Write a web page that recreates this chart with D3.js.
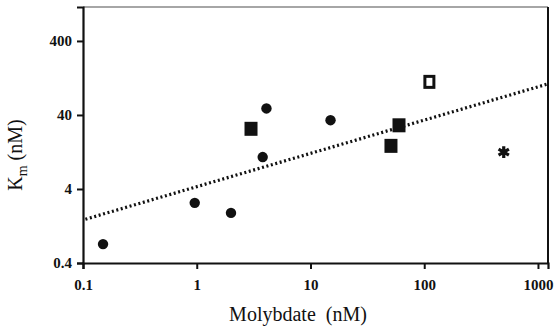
<!DOCTYPE html>
<html>
<head>
<meta charset="utf-8">
<script src="https://cdn.jsdelivr.net/npm/d3@7"></script>
<style>
  body { margin: 0; background: #fff; }
  text { font-family: "Liberation Serif", "DejaVu Serif", serif; fill: #111; }
</style>
</head>
<body>
<div id="chart"></div>
<script>
// values (nM)
var circleX = [0.15, 0.96, 2.0, 3.8, 4.1, 15];
var circleY = [0.72, 2.6, 1.9, 10.8, 49, 34];
var squareX = [3.0, 51, 60];
var squareY = [26, 15.3, 29];
var openX = [111];
var openY = [112];
var starX = [500];
var starY = [12.6];
var fitX = [0.105, 1220];
var fitY = [1.56, 105];
var xTicks = [0.1, 1, 10, 100, 1000];
var yTicks = [0.4, 4, 40, 400];

var _width = 554, _height = 333,
  _margins = {top: 7, left: 83, right: 6, bottom: 70};

var svg = d3.select("#chart").append("svg")
  .attr("width", _width)
  .attr("height", _height);

var x = d3.scaleLog().domain([0.1, 1225]).range([_margins.left, _width - _margins.right]);
var y = d3.scaleLog().domain([0.4, 1150]).range([_height - _margins.bottom, _margins.top]);

// frame: gray top, black right
svg.append("line")
  .attr("x1", x.range()[0]).attr("x2", x.range()[1])
  .attr("y1", y.range()[1]).attr("y2", y.range()[1])
  .attr("stroke", "#888").attr("stroke-width", 1.5);
svg.append("line")
  .attr("x1", x.range()[1]).attr("x2", x.range()[1])
  .attr("y1", y.range()[1]).attr("y2", y.range()[0])
  .attr("stroke", "#111").attr("stroke-width", 2);

var fmt = function (d) { return String(d); };

var xAxis = svg.append("g")
  .attr("transform", "translate(0," + y.range()[0] + ")")
  .call(d3.axisBottom(x).tickValues(xTicks).tickFormat(fmt).tickSize(6).tickPadding(10));
var yAxis = svg.append("g")
  .attr("transform", "translate(" + x.range()[0] + ",0)")
  .call(d3.axisLeft(y).tickValues(yTicks).tickFormat(fmt).tickSize(6).tickPadding(5));

[xAxis, yAxis].forEach(function (g) {
  g.select(".domain").attr("stroke", "#111").attr("stroke-width", 2.2);
  g.selectAll(".tick line").attr("stroke", "#111").attr("stroke-width", 2);
  g.selectAll(".tick text")
    .style("font-family", "'Liberation Serif', serif")
    .style("font-size", "15px")
    .style("font-weight", "bold")
    .attr("fill", "#111");
});

// fitted dotted line
svg.append("path")
  .datum(d3.zip(fitX, fitY))
  .attr("fill", "none")
  .attr("stroke", "#111")
  .attr("stroke-width", 3.2)
  .attr("stroke-dasharray", "2,2.6")
  .attr("d", d3.line().x(function (d) { return x(d[0]); }).y(function (d) { return y(d[1]); }));

svg.selectAll("circle.pt")
  .data(d3.zip(circleX, circleY))
  .enter().append("circle")
  .attr("class", "pt")
  .attr("cx", function (d) { return x(d[0]); })
  .attr("cy", function (d) { return y(d[1]); })
  .attr("r", 5.2)
  .attr("fill", "#111");

svg.selectAll("rect.sq")
  .data(d3.zip(squareX, squareY))
  .enter().append("rect")
  .attr("class", "sq")
  .attr("x", function (d) { return x(d[0]) - 6.5; })
  .attr("y", function (d) { return y(d[1]) - 7; })
  .attr("width", 13).attr("height", 14)
  .attr("fill", "#111");

svg.selectAll("rect.open")
  .data(d3.zip(openX, openY))
  .enter().append("rect")
  .attr("class", "open")
  .attr("x", function (d) { return x(d[0]) - 4.5; })
  .attr("y", function (d) { return y(d[1]) - 5.5; })
  .attr("width", 9).attr("height", 11)
  .attr("fill", "#fff")
  .attr("stroke", "#111")
  .attr("stroke-width", 3);

svg.selectAll("path.star")
  .data(d3.zip(starX, starY))
  .enter().append("path")
  .attr("class", "star")
  .attr("transform", function (d) { return "translate(" + x(d[0]) + "," + y(d[1]) + ")"; })
  .attr("d", d3.symbol().type(d3.symbolAsterisk).size(100))
  .attr("stroke", "#111")
  .attr("stroke-width", 3.2);

// axis titles
svg.append("text")
  .attr("x", 298)
  .attr("y", 321)
  .attr("text-anchor", "middle")
  .style("font-size", "20px")
  .text("Molybdate\u00a0\u00a0(nM)");

var yl = svg.append("text")
  .attr("transform", "translate(22,155) rotate(-90)")
  .attr("text-anchor", "middle")
  .style("font-size", "20px");
yl.append("tspan").text("K");
yl.append("tspan").attr("dy", 5).style("font-size", "14px").text("m");
yl.append("tspan").attr("dy", -5).text("\u00a0(nM)");
</script>
</body>
</html>
